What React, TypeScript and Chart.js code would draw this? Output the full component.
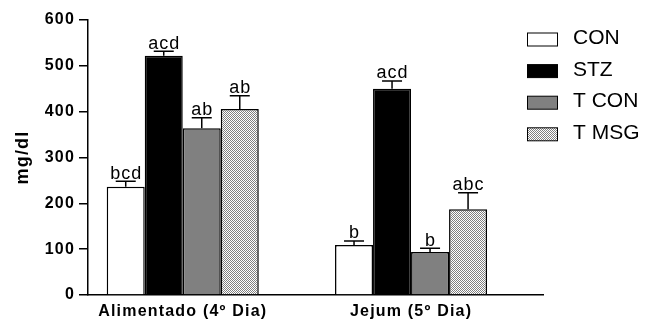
import { useEffect, useRef } from 'react';
import { Chart, registerables } from 'chart.js';

Chart.register(...registerables);

const groups = ['Alimentado (4º Dia)', 'Jejum (5º Dia)'];
const groupPositions = [0, 1];
const seriesNames = ['CON', 'STZ', 'T CON', 'T MSG'];
const conValues = [236, 109];
const stzValues = [522, 450];
const tconValues = [364, 94];
const tmsgValues = [406, 187];
const conErrors = [12, 9];
const stzErrors = [10, 17];
const tconErrors = [23, 8];
const tmsgErrors = [29, 36];
const conLetters = ['bcd', 'b'];
const stzLetters = ['acd', 'acd'];
const tconLetters = ['ab', 'b'];
const tmsgLetters = ['ab', 'abc'];
const yTickValues = [0, 100, 200, 300, 400, 500, 600];
const yTitle = 'mg/dl';

const FONT = 'Arial, "Liberation Sans", sans-serif';

function makePattern(): CanvasPattern | string {
  const c = document.createElement('canvas');
  c.width = 2;
  c.height = 2;
  const g = c.getContext('2d');
  if (!g) return '#c0c0c0';
  g.fillStyle = '#ffffff';
  g.fillRect(0, 0, 2, 2);
  g.fillStyle = '#808080';
  g.fillRect(0, 0, 1, 1);
  g.fillRect(1, 1, 1, 1);
  return g.createPattern(c, 'repeat') || '#c0c0c0';
}

export default function App() {
  const ref = useRef<HTMLCanvasElement>(null);

  useEffect(() => {
    document.body.style.margin = '0';
    const canvas = ref.current;
    if (!canvas) return;
    const pattern = makePattern();
    const fills: any[] = ['#ffffff', '#000000', '#808080', pattern];
    const values = [conValues, stzValues, tconValues, tmsgValues];
    const errors = [conErrors, stzErrors, tconErrors, tmsgErrors];
    const letters = [conLetters, stzLetters, tconLetters, tmsgLetters];

    const spacingPlugin = {
      id: 'spacing',
      beforeDraw(chart: any) {
        chart.ctx.letterSpacing = '1.2px';
      },
      afterDraw(chart: any) {
        chart.ctx.letterSpacing = '0px';
      },
    };

    const errorPlugin = {
      id: 'errorbars',
      afterDatasetsDraw(chart: any) {
        const ctx = chart.ctx;
        const yScale = chart.scales.y;
        ctx.save();
        ctx.letterSpacing = '1px';
        chart.data.datasets.forEach((ds: any, di: number) => {
          const meta = chart.getDatasetMeta(di);
          meta.data.forEach((el: any, i: number) => {
            const top = values[di][i] + errors[di][i];
            const yTop = yScale.getPixelForValue(top);
            const x = el.x;
            ctx.strokeStyle = '#000';
            ctx.lineWidth = 1.5;
            ctx.beginPath();
            ctx.moveTo(x, el.y);
            ctx.lineTo(x, yTop);
            ctx.moveTo(x - 10, yTop);
            ctx.lineTo(x + 10, yTop);
            ctx.stroke();
            ctx.fillStyle = '#000';
            ctx.font = `18px ${FONT}`;
            ctx.textAlign = 'center';
            ctx.textBaseline = 'alphabetic';
            ctx.fillText(letters[di][i], x + 0.5, yTop - 2.5);
          });
        });
        ctx.restore();
      },
    };

    const legendPlugin = {
      id: 'sideLegend',
      afterDraw(chart: any) {
        const ctx = chart.ctx;
        ctx.save();
        ctx.letterSpacing = '0px';
        seriesNames.forEach((name, i) => {
          const cy = 39.5 + i * 31.6;
          ctx.fillStyle = fills[i];
          ctx.fillRect(527.5, cy - 6.5, 30, 13);
          ctx.strokeStyle = '#000';
          ctx.lineWidth = 1;
          ctx.strokeRect(527.5, cy - 6.5, 30, 13);
          ctx.fillStyle = '#000';
          ctx.font = `21px ${FONT}`;
          ctx.textAlign = 'left';
          ctx.textBaseline = 'middle';
          ctx.fillText(name, 573, cy - 1);
        });
        ctx.restore();
      },
    };

    const chart = new Chart(canvas, {
      type: 'bar',
      data: {
        datasets: seriesNames.map((name, di) => ({
          label: name,
          data: groupPositions.map((x, i) => ({ x, y: values[di][i] })),
          backgroundColor: fills[di],
          borderColor: '#000',
          borderWidth: 1.5,
          borderSkipped: 'start',
          categoryPercentage: 0.666,
          barPercentage: 1,
        })),
      },
      options: {
        animation: false,
        responsive: false,
        devicePixelRatio: 1,
        layout: { padding: { top: 20, right: 103, bottom: 0, left: 0 } },
        plugins: {
          legend: { display: false },
          tooltip: { enabled: false },
        },
        scales: {
          x: {
            type: 'linear',
            min: -0.415,
            max: 1.578,
            offset: false,
            bounds: 'data',
            grace: 0,
            afterFit(scale: any) {
              scale.height = 25;
            },
            afterBuildTicks(scale: any) {
              scale.ticks = groupPositions.map((v) => ({ value: v }));
            },
            grid: { display: false, drawTicks: false, offset: false },
            border: { display: true, color: '#000', width: 1.5 },
            ticks: {
              color: '#000',
              padding: 7,
              maxRotation: 0,
              autoSkip: false,
              font: { family: FONT, size: 16, weight: 'bold' },
              callback: (v: any) => groups[groupPositions.indexOf(Number(v))] ?? '',
            },
          },
          y: {
            min: 0,
            max: 600,
            afterFit(scale: any) {
              scale.width = 88;
            },
            afterBuildTicks(scale: any) {
              scale.ticks = yTickValues.map((v) => ({ value: v }));
            },
            grid: {
              display: true,
              drawOnChartArea: false,
              drawTicks: true,
              tickLength: 9,
              color: '#000',
              lineWidth: 1.5,
            },
            border: { display: true, color: '#000', width: 1.5 },
            ticks: {
              color: '#000',
              padding: 4,
              font: { family: FONT, size: 16, weight: 'bold' },
            },
            title: {
              display: true,
              text: yTitle,
              color: '#000',
              font: { family: FONT, size: 18, weight: 'bold' },
              padding: { top: 12, bottom: 0 },
            },
          },
        },
      },
      plugins: [spacingPlugin, errorPlugin, legendPlugin],
    } as any);

    return () => chart.destroy();
  }, []);

  return (
    <div style={{ width: 646, height: 320, position: 'relative' }}>
      <canvas ref={ref} width={646} height={320} style={{ display: 'block' }} />
    </div>
  );
}
